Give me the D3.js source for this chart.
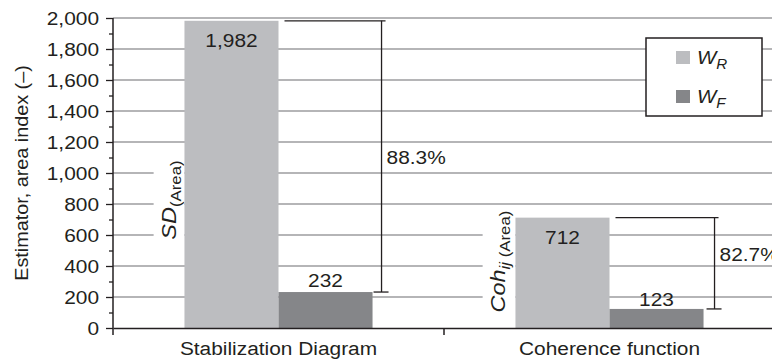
<!DOCTYPE html>
<html>
<head>
<meta charset="utf-8">
<script src="https://cdn.jsdelivr.net/npm/d3@7"></script>
<style>
  html, body { margin: 0; padding: 0; background: #fff; }
  svg { display: block; font-family: "Liberation Sans", Arial, Helvetica, sans-serif; }
  text { fill: #231f20; }
</style>
</head>
<body>
<svg id="chart" width="772" height="360"></svg>
<script>
// Estimator values (area index) per identification method
const categories = ["Stabilization Diagram", "Coherence function"];
const seriesKeys = ["WR", "WF"];
const seriesLetters = ["R", "F"];
const valuesWR = [1982, 712];
const valuesWF = [232, 123];
const yTickValues = [0, 200, 400, 600, 800, 1000, 1200, 1400, 1600, 1800, 2000];
const yMinorValues = [100, 300, 500, 700, 900, 1100, 1300, 1500, 1700, 1900];
const estimatorNames = [
  { main: "SD", idx: "", area: "(Area)" },
  { main: "Coh", idx: "ij", area: "(Area)" }
];

const colors = { WR: "#bcbdc0", WF: "#858689" };
const SX = 1.16;            // horizontal stretch of the typeface
const FS = 18;
const W = 772, H = 360;
const m = { left: 113, top: 18, bottom: 328, right: 775 };

const svg = d3.select("#chart");

const x0 = d3.scaleBand().domain(categories).range([m.left, m.right]).paddingInner(0).paddingOuter(0);
const x1 = d3.scaleBand().domain(seriesKeys).range([0, x0.bandwidth()]).paddingInner(0).paddingOuter(0.76);
const y = d3.scaleLinear().domain([0, 2000]).range([m.bottom, m.top]);

const rows = categories.map((c, i) => ({ cat: c, WR: valuesWR[i], WF: valuesWF[i], i }));

// helper: text stretched horizontally in its own frame
function stext(g, x, yy, rot, str, opts = {}) {
  const t = g.append("text")
    .attr("transform", `translate(${x},${yy}) rotate(${rot}) scale(${opts.sx || SX},1)`)
    .attr("font-size", opts.fs || FS)
    .attr("text-anchor", opts.anchor || "start");
  if (opts.italic) t.attr("font-style", "italic");
  if (str !== null) t.text(str);
  return t;
}

// gridlines
svg.append("g").selectAll("line").data(yTickValues.filter(d => d > 0)).join("line")
  .attr("x1", m.left).attr("x2", W)
  .attr("y1", d => y(d)).attr("y2", d => y(d))
  .attr("stroke", "#9d9d9f").attr("stroke-width", 1.5);

// rotated estimator labels with white backing
const labelAnchors = [{ v: 570, gap: 8 }, { v: 100, gap: 10 }];
const estG = svg.append("g");
rows.forEach((r, i) => {
  const bx = x0(r.cat) + x1("WR");
  const g = estG.append("g");
  const bg = g.append("rect").attr("fill", "#fff");
  const t = stext(g, bx - labelAnchors[i].gap, y(labelAnchors[i].v), -90, null, { sx: 1.12, fs: 21 });
  const n = estimatorNames[i];
  t.append("tspan").attr("font-style", "italic").text(n.main);
  if (n.idx) t.append("tspan").attr("font-style", "italic").attr("font-size", 15).attr("dy", 5).text(n.idx);
  t.append("tspan").attr("font-size", 15).attr("dy", n.idx ? 0 : 5).text((n.idx ? " " : "") + n.area);
  const bb = t.node().getBoundingClientRect();
  bg.attr("x", bb.left - 4).attr("y", bb.top - 3)
    .attr("width", bx - bb.left + 4).attr("height", bb.height + 6);
});

// bars
const groups = svg.append("g").selectAll("g").data(rows).join("g")
  .attr("transform", d => `translate(${x0(d.cat)},0)`);
groups.selectAll("rect").data(d => seriesKeys.map(k => ({ k, v: d[k] }))).join("rect")
  .attr("x", d => x1(d.k)).attr("width", x1.bandwidth())
  .attr("y", d => y(d.v)).attr("height", d => y(0) - y(d.v))
  .attr("fill", d => colors[d.k]);

// value labels
const fmt = d3.format(",");
rows.forEach(r => {
  const cx = x0(r.cat);
  stext(svg, cx + x1("WR") + x1.bandwidth() / 2, y(r.WR) + 26, 0, fmt(r.WR), { anchor: "middle" });
  stext(svg, cx + x1("WF") + x1.bandwidth() / 2, y(r.WF) - (r.i === 0 ? 5 : 3), 0, fmt(r.WF), { anchor: "middle" });
});

// reduction brackets
const bracketOffsets = [{ vx: 9, ty: 8 }, { vx: 11, ty: -2 }];
const brG = svg.append("g").attr("stroke", "#231f20").attr("stroke-width", 1.3).attr("fill", "none");
rows.forEach((r, i) => {
  const cx = x0(r.cat);
  const l2 = cx + x1("WF");
  const r2 = l2 + x1.bandwidth();
  const vx = r2 + bracketOffsets[i].vx;
  const yt = y(r.WR), yb = y(r.WF);
  brG.append("line").attr("x1", l2 + 6).attr("x2", vx + 4).attr("y1", yt).attr("y2", yt);
  brG.append("line").attr("x1", vx).attr("x2", vx).attr("y1", yt).attr("y2", yb);
  brG.append("line").attr("x1", vx - 8).attr("x2", vx + 7).attr("y1", yb).attr("y2", yb);
  const pct = ((1 - r.WF / r.WR) * 100).toFixed(1) + "%";
  stext(svg, vx + 5, (yt + yb) / 2 + bracketOffsets[i].ty, 0, pct);
});

// y axis
const yAxis = svg.append("g").attr("transform", `translate(${m.left},0)`)
  .call(d3.axisLeft(y).tickValues(yTickValues).tickFormat(fmt).tickSizeInner(7).tickSizeOuter(0).tickPadding(14));
yAxis.select(".domain").remove();
yAxis.selectAll(".tick line").attr("stroke", "#231f20").attr("stroke-width", 1.3);
yAxis.selectAll(".tick text")
  .attr("x", 0).attr("dy", "0.36em")
  .attr("transform", `translate(-14,0) scale(${SX},1)`)
  .attr("font-size", FS).attr("font-family", null).attr("fill", "#231f20");
const yMinor = svg.append("g").attr("transform", `translate(${m.left},0)`)
  .call(d3.axisLeft(y).tickValues(yMinorValues).tickFormat("").tickSizeInner(4).tickSizeOuter(0));
yMinor.select(".domain").remove();
yMinor.selectAll(".tick line").attr("stroke", "#231f20").attr("stroke-width", 1.3);
svg.append("line").attr("x1", m.left).attr("x2", m.left).attr("y1", m.top).attr("y2", m.bottom + 7)
  .attr("stroke", "#231f20").attr("stroke-width", 1.5);

// x axis
const xAxis = svg.append("g").attr("transform", `translate(0,${m.bottom})`)
  .call(d3.axisBottom(x0).tickSize(0).tickSizeOuter(0));
xAxis.select(".domain").attr("stroke", "#231f20").attr("stroke-width", 1.5);
xAxis.selectAll(".tick text")
  .attr("y", 0).attr("dy", 0)
  .attr("transform", `translate(0,27) scale(${SX},1)`)
  .attr("font-size", FS).attr("font-family", null).attr("fill", "#231f20");
svg.append("g").selectAll("line").data(categories.slice(1)).join("line")
  .attr("x1", d => x0(d)).attr("x2", d => x0(d))
  .attr("y1", m.bottom).attr("y2", m.bottom + 7)
  .attr("stroke", "#231f20").attr("stroke-width", 1.5);

// y axis title
stext(svg, 28, (m.top + m.bottom) / 2, -90, "Estimator, area index (–)", { anchor: "middle", sx: 1.1 });

// legend
const lg = svg.append("g").attr("transform", "translate(646,38)");
lg.append("rect").attr("width", 116).attr("height", 78).attr("fill", "#fff")
  .attr("stroke", "#231f20").attr("stroke-width", 1.5);
seriesKeys.forEach((k, i) => {
  const yy = 13 + i * 39;
  lg.append("rect").attr("x", 30).attr("y", yy).attr("width", 14).attr("height", 13).attr("fill", colors[k]);
  const t = stext(lg, 51, yy + 13, 0, null, { sx: 1.08, fs: 19 });
  t.append("tspan").attr("font-style", "italic").text("W");
  t.append("tspan").attr("font-style", "italic").attr("font-size", 14).attr("dy", 5).text(seriesLetters[i]);
});
</script>
</body>
</html>
